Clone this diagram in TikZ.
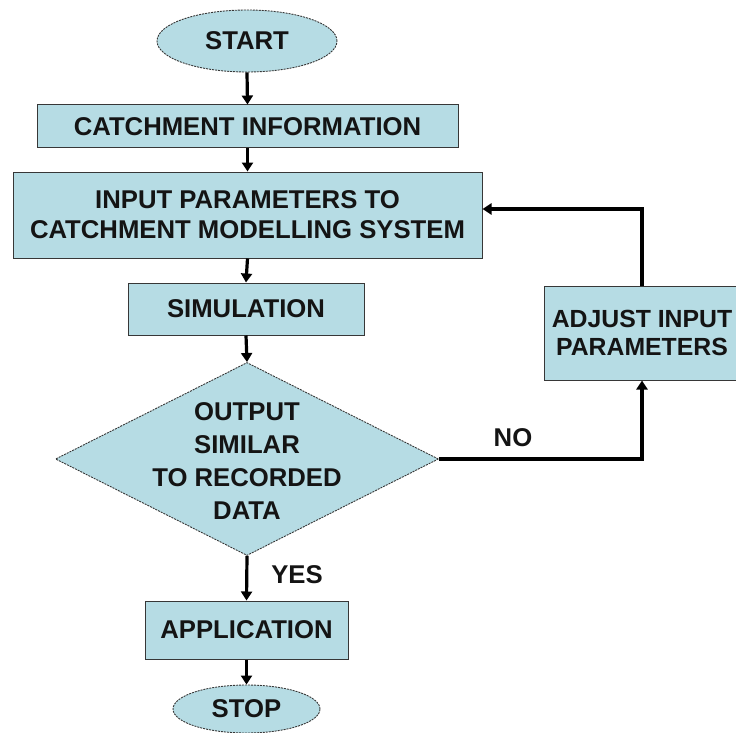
\documentclass[tikz,border=0pt]{standalone}
\usepackage{fontspec}
\setmainfont{Liberation Sans}
\usetikzlibrary{shapes.geometric,arrows.meta}
\definecolor{boxfill}{RGB}{182,220,228}
\definecolor{txt}{RGB}{20,20,20}
\definecolor{edge}{RGB}{55,55,55}
\begin{document}
\begin{tikzpicture}[x=1pt,y=-1pt,
  every node/.style={text=txt,font=\bfseries\fontsize{25.7}{30}\selectfont,align=center,inner sep=0pt},
  procbox/.style={draw=edge,line width=1pt,fill=boxfill,rectangle},
  terminal/.style={draw=edge,line width=0.9pt,dash pattern=on 2pt off 1pt,fill=boxfill,ellipse},
  flow/.style={line width=3.2pt,draw=black,-{Triangle[length=9pt,width=11pt]}}]
\useasboundingbox (0,0) rectangle (736,733);
\node[terminal,minimum width=180pt,minimum height=62pt] (start) at (247,41) {START};
\node[procbox,minimum width=421pt,minimum height=43pt] (info) at (247.5,126.5) {CATCHMENT INFORMATION};
\node[procbox,minimum width=469pt,minimum height=86pt] (input) at (247.5,215) {INPUT PARAMETERS TO\\CATCHMENT MODELLING SYSTEM};
\node[procbox,minimum width=236pt,minimum height=52pt] (sim) at (246,309) {SIMULATION};
\node[draw=edge,line width=0.9pt,dash pattern=on 2pt off 1pt,fill=boxfill,diamond,minimum width=383pt,minimum height=193pt] (dec) at (247,459) {};
\node[font=\bfseries\fontsize{25.7}{33}\selectfont] (dectext) at (247,461) {OUTPUT\\SIMILAR\\TO RECORDED\\DATA};
\node[procbox,minimum width=203pt,minimum height=58pt] (app) at (246.5,630) {APPLICATION};
\node[terminal,minimum width=147pt,minimum height=48pt] (stop) at (246.5,709) {STOP};
\node[procbox,minimum width=196pt,minimum height=94pt,font=\bfseries\fontsize{24.8}{28}\selectfont] (adj) at (642,333) {ADJUST INPUT\\PARAMETERS};
\node (no) at (513,438) {NO};
\node (yes) at (297,575) {YES};
\draw[flow] (start.south) -- (info.north);
\draw[flow] (info.south) -- (input.north);
\draw[flow] (input.south) -- (sim.north);
\draw[flow] (sim.south) -- (dec.north);
\draw[flow] (dec.south) -- (app.north);
\draw[flow] (app.south) -- (stop.north);
\draw[flow] (dec.east) -| (adj.south);
\draw[flow] (adj.north) |- ([yshift=6pt]input.east);
\end{tikzpicture}
\end{document}
